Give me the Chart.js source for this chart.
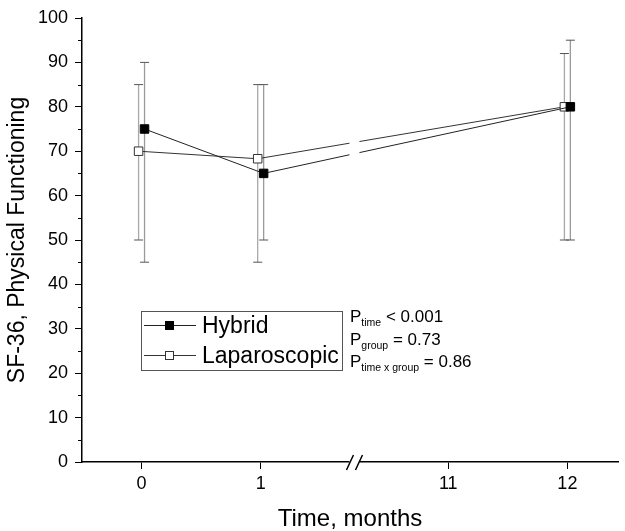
<!DOCTYPE html>
<html><head><meta charset="utf-8">
<script src="https://cdn.jsdelivr.net/npm/chart.js@4.4.0/dist/chart.umd.min.js"></script>
<style>html,body{margin:0;padding:0;background:#fff}canvas{display:block}</style>
</head><body>
<canvas id="c" width="625" height="531"></canvas>
<script>
// ---- data ----
const months = [0, 1, 12];
const xTickMonths = [0, 1, 11, 12];
const hybridMean = [75, 65, 80];
const hybridLow = [45, 50, 50];
const hybridHigh = [90, 85, 95];
const lapMean = [70, 68.3, 80];
const lapLow = [50, 45, 50];
const lapHigh = [85, 85, 92];
const seriesNames = ['Hybrid', 'Laparoscopic'];
const pLabels = [['time', ' < 0.001'], ['group', ' = 0.73'], ['time x group', ' = 0.86']];
const yMinorTicks = [5, 15, 25, 35, 45, 55, 65, 75, 85, 95];

// ---- layout / style constants ----
const FONT = "'Liberation Sans', Arial, sans-serif";
const BREAK_AFTER = 1;      // axis break between month 1 and month 11
const BREAK_SHIFT = 8.425;  // months after the break are drawn shifted left
const DODGE = 0.025;        // horizontal offset between the two groups
function axisPos(m) { return m > BREAK_AFTER ? m - BREAK_SHIFT : m; }

function mk(mean, lo, hi, dx) {
  return months.map((m, i) => ({ x: axisPos(m) + dx, y: mean[i], lo: lo[i], hi: hi[i] }));
}

const errorBars = {
  id: 'errorBars',
  beforeDatasetsDraw(chart) {
    const ctx = chart.ctx, ys = chart.scales.y;
    ctx.save();
    chart.data.datasets.forEach((ds, di) => {
      const meta = chart.getDatasetMeta(di);
      meta.data.forEach((pt, i) => {
        const d = ds.data[i];
        const x = pt.x, y1 = ys.getPixelForValue(d.lo), y2 = ys.getPixelForValue(d.hi);
        ctx.strokeStyle = ds.errColor; ctx.lineWidth = 1.3;
        ctx.beginPath(); ctx.moveTo(x, y1); ctx.lineTo(x, y2); ctx.stroke();
        ctx.strokeStyle = '#555'; ctx.lineWidth = 1;
        ctx.beginPath();
        ctx.moveTo(x - 4.5, y1); ctx.lineTo(x + 4.5, y1);
        ctx.moveTo(x - 4.5, y2); ctx.lineTo(x + 4.5, y2);
        ctx.stroke();
      });
    });
    ctx.restore();
  }
};

const decor = {
  id: 'decor',
  afterDraw(chart) {
    const ctx = chart.ctx, xs = chart.scales.x, ys = chart.scales.y, ca = chart.chartArea;
    ctx.save();
    // minor y ticks
    ctx.strokeStyle = '#000'; ctx.lineWidth = 1;
    yMinorTicks.forEach(v => {
      const py = Math.round(ys.getPixelForValue(v)) + 0.5;
      ctx.beginPath(); ctx.moveTo(ca.left - 4, py); ctx.lineTo(ca.left, py); ctx.stroke();
    });
    // axis break
    const bx = (xs.getPixelForValue(axisPos(BREAK_AFTER)) + xs.getPixelForValue(axisPos(11))) / 2;
    ctx.fillStyle = '#fff';
    ctx.fillRect(bx - 5, ca.top, 10, ca.bottom - ca.top + 2);
    ctx.strokeStyle = '#000'; ctx.lineWidth = 1.5;
    [-4.5, 4.5].forEach(o => {
      ctx.beginPath();
      ctx.moveTo(bx + o - 3.5, ca.bottom + 8); ctx.lineTo(bx + o + 3.5, ca.bottom - 7); ctx.stroke();
    });
    // legend
    const lx = 141, ly = 311, lw = 201, lh = 59;
    ctx.strokeStyle = '#555'; ctx.lineWidth = 1;
    ctx.strokeRect(lx + 0.5, ly + 0.5, lw, lh);
    chart.data.datasets.forEach((ds, di) => {
      const ry = ly + 14.5 + di * 30;
      ctx.strokeStyle = ds.borderColor; ctx.lineWidth = 1;
      ctx.beginPath(); ctx.moveTo(lx + 3, ry); ctx.lineTo(lx + 55, ry); ctx.stroke();
      ctx.fillStyle = ds.pointBackgroundColor; ctx.strokeStyle = ds.pointBorderColor;
      ctx.fillRect(lx + 24.5, ry - 4, 8, 8); ctx.strokeRect(lx + 24.5, ry - 4, 8, 8);
      ctx.fillStyle = '#000'; ctx.font = '23px ' + FONT; ctx.textBaseline = 'middle';
      ctx.fillText(seriesNames[di], lx + 61, ry + 1);
    });
    // p values
    ctx.fillStyle = '#000'; ctx.textBaseline = 'alphabetic';
    pLabels.forEach((p, i) => {
      const by = 322 + i * 22.5;
      let x = 350;
      ctx.font = '17px ' + FONT; ctx.fillText('P', x, by); x += ctx.measureText('P').width;
      ctx.font = '10.5px ' + FONT; ctx.fillText(p[0], x, by + 4); x += ctx.measureText(p[0]).width;
      ctx.font = '17px ' + FONT; ctx.fillText(p[1], x, by);
    });
    ctx.restore();
  }
};

new Chart(document.getElementById('c'), {
  type: 'line',
  data: {
    datasets: [
      { label: seriesNames[0], data: mk(hybridMean, hybridLow, hybridHigh, DODGE),
        borderColor: '#222', borderWidth: 1, pointStyle: 'rect', pointRadius: 6, pointHoverRadius: 6,
        pointBackgroundColor: '#000', pointBorderColor: '#000', pointBorderWidth: 1,
        errColor: '#9a9a9a', tension: 0, fill: false },
      { label: seriesNames[1], data: mk(lapMean, lapLow, lapHigh, -DODGE),
        borderColor: '#333', borderWidth: 1, pointStyle: 'rect', pointRadius: 6, pointHoverRadius: 6,
        pointBackgroundColor: '#fff', pointBorderColor: '#333', pointBorderWidth: 1,
        errColor: '#a8a8a8', tension: 0, fill: false }
    ]
  },
  options: {
    responsive: false, animation: false, devicePixelRatio: 1,
    layout: { padding: { top: 18, right: 3, left: 0, bottom: 0 } },
    plugins: { legend: { display: false }, tooltip: { enabled: false } },
    scales: {
      x: {
        type: 'linear', min: -0.5, max: 4,
        afterBuildTicks(s) { s.ticks = xTickMonths.map(m => ({ value: axisPos(m) })); },
        afterFit(s) { s.height = 69; },
        ticks: {
          font: { family: FONT, size: 18 }, color: '#000', padding: 4, maxRotation: 0, autoSkip: false,
          callback(v) { const i = xTickMonths.findIndex(m => Math.abs(axisPos(m) - v) < 1e-6); return i >= 0 ? String(xTickMonths[i]) : ''; }
        },
        grid: { drawOnChartArea: false, drawTicks: true, tickLength: 7, tickColor: '#000', tickWidth: 1 },
        border: { display: true, color: '#000', width: 1.5 },
        title: { display: true, text: 'Time, months', color: '#000', font: { family: FONT, size: 24, lineHeight: 1 }, padding: { top: 0, bottom: 0 } }
      },
      y: {
        min: 0, max: 100,
        afterFit(s) { s.width = 82; },
        ticks: { stepSize: 10, font: { family: FONT, size: 18 }, color: '#000', padding: 7 },
        grid: { drawOnChartArea: false, drawTicks: true, tickLength: 7, tickColor: '#000', tickWidth: 1 },
        border: { display: true, color: '#000', width: 1.5 },
        title: { display: true, text: 'SF-36, Physical Functioning', color: '#000', font: { family: FONT, size: 23, lineHeight: 1 }, padding: { top: 6, bottom: 0 } }
      }
    }
  },
  plugins: [errorBars, decor]
});
</script>
</body></html>
